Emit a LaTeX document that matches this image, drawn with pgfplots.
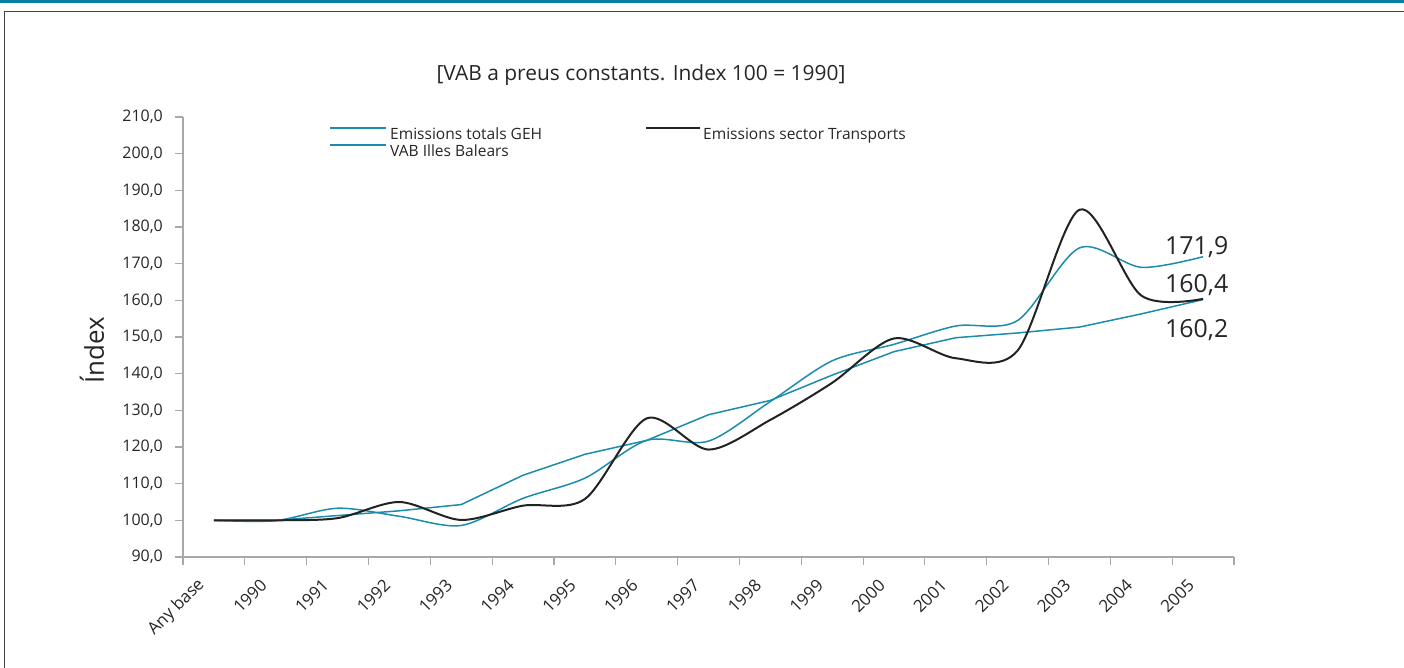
\documentclass[border=0pt]{standalone}
\usepackage{fontspec}
\setmainfont{Open Sans}
\usepackage{pgfplots}
\pgfplotsset{compat=1.18}
\definecolor{tealline}{HTML}{1B8CAB}
\definecolor{topbar}{HTML}{0A7FA4}
\definecolor{blackline}{HTML}{222222}
\definecolor{axgray}{HTML}{A8A8A8}
\begin{document}
\begin{tikzpicture}[x=1bp,y=1bp]
\useasboundingbox (0,0) rectangle (1404,668);
\fill[topbar] (0,664.5) rectangle (1404,668);
\draw[line width=1.4bp, black!75] (4.5,0) -- (4.5,656.5) -- (1404,656.5);
\node[font=\fontsize{21}{23}\selectfont, text=black!85] at (641,593) {[VAB a preus constants. Index 100 = 1990]};
\node[font=\fontsize{26}{28}\selectfont, text=black!85, rotate=90] at (92,318) {Índex};
% legend
\draw[tealline, line width=1.4bp] (330,540) -- (386,540);
\node[anchor=base west, inner sep=0pt, font=\fontsize{15.6}{17}\selectfont, text=black!85] at (390,528) {Emissions totals GEH};
\draw[tealline, line width=1.4bp] (330,523) -- (386,523);
\node[anchor=base west, inner sep=0pt, font=\fontsize{15.6}{17}\selectfont, text=black!85] at (390,511) {VAB Illes Balears};
\draw[blackline, line width=1.4bp] (646,540) -- (700,540);
\node[anchor=base west, inner sep=0pt, font=\fontsize{15.6}{17}\selectfont, text=black!85] at (703,528) {Emissions sector Transports};
% value labels
\node[anchor=west, inner sep=0pt, font=\fontsize{25}{27}\selectfont, text=black!85] at (1165,421) {171,9};
\node[anchor=west, inner sep=0pt, font=\fontsize{25}{27}\selectfont, text=black!85] at (1165,383) {160,4};
\node[anchor=west, inner sep=0pt, font=\fontsize{25}{27}\selectfont, text=black!85] at (1165,338) {160,2};
\begin{axis}[
  at={(183bp,111bp)}, anchor=south west, scale only axis,
  width=1051bp, height=440bp,
  xmin=0, xmax=17, ymin=90, ymax=210,
  axis lines*=left,
  axis line style={axgray, line width=1.3bp},
  every tick/.style={axgray, line width=1.1bp},
  major tick length=8bp,
  tick align=outside,
  ytick={90,100,...,210},
  xtick={0,1,...,17},
  xticklabels={},
  extra x ticks={0.5,1.5,...,16.5},
  extra x tick labels={Any base,1990,1991,1992,1993,1994,1995,1996,1997,1998,1999,2000,2001,2002,2003,2004,2005},
  extra x tick style={tick style={draw=none}},
  xticklabel style={rotate=45, anchor=east, inner sep=0pt, xshift=-20.5bp, yshift=-3.6bp, font=\fontsize{17}{19}\selectfont, text=black!85},
  yticklabel style={font=\fontsize{16}{18}\selectfont, text=black!85, inner sep=0pt, xshift=-12bp},
  /pgf/number format/.cd, fixed, fixed zerofill, precision=1, use comma, assume math mode=true,
]
% Emissions totals GEH
\addplot[tealline, line width=1.5bp, smooth] coordinates {
(0.5,100.0) (1.5,99.9) (2.5,103.3) (3.5,101.1) (4.5,98.6) (5.5,106.0) (6.5,111.5) (7.5,121.8) (8.5,121.6) (9.5,132.4) (10.5,143.5) (11.5,148.0) (12.5,153.0) (13.5,154.5) (14.5,174.3) (15.5,169.0) (16.5,171.9)};
% VAB Illes Balears
\addplot[tealline, line width=1.5bp] coordinates {
(0.5,100.0) (1.5,100.0) (2.5,101.3) (3.5,102.6) (4.5,104.3) (5.5,112.3) (6.5,118.0) (7.5,121.8) (8.5,128.8) (9.5,132.7) (10.5,139.6) (11.5,146.0) (12.5,149.8) (13.5,151.1) (14.5,152.7) (15.5,156.3) (16.5,160.2)};
% Emissions sector Transports
\addplot[blackline, line width=2bp, smooth] coordinates {
(0.5,100.0) (1.5,100.0) (2.5,100.6) (3.5,105.0) (4.5,100.1) (5.5,104.0) (6.5,105.8) (7.5,127.8) (8.5,119.3) (9.5,127.4) (10.5,137.5) (11.5,149.6) (12.5,144.2) (13.5,146.3) (14.5,184.7) (15.5,161.3) (16.5,160.4)};
\end{axis}
\end{tikzpicture}
\end{document}
